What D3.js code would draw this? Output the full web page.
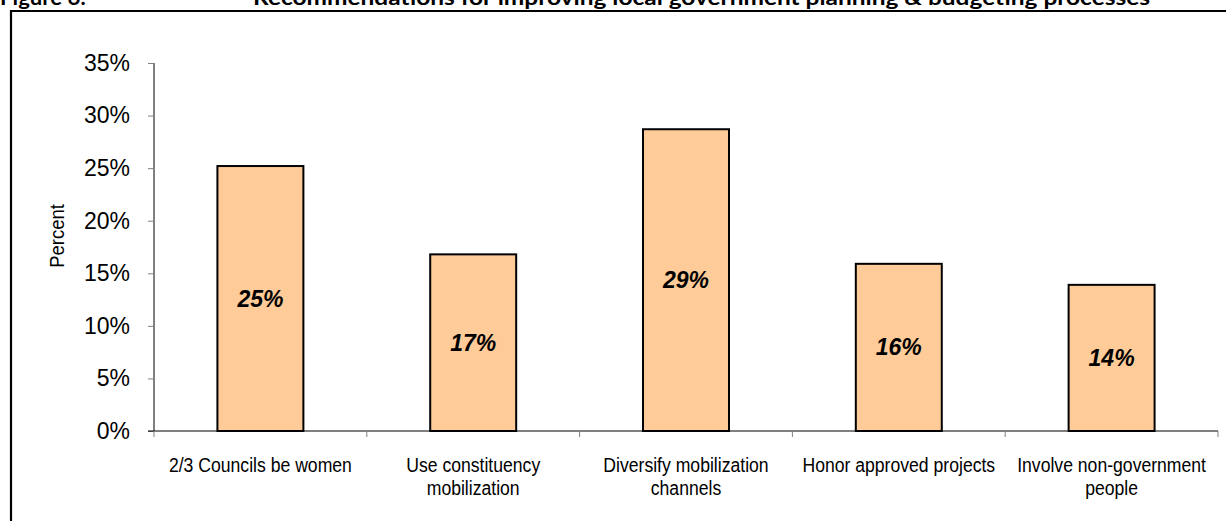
<!DOCTYPE html>
<html><head><meta charset="utf-8">
<script src="https://cdn.jsdelivr.net/npm/d3@7"></script>
<style>
html,body{margin:0;padding:0;background:#fff;overflow:hidden;}
svg{display:block;}
</style></head>
<body>
<svg id="chart" width="1226" height="521"></svg>
<script>
const categories = [
  ["2/3 Councils be women"],
  ["Use constituency", "mobilization"],
  ["Diversify mobilization", "channels"],
  ["Honor approved projects"],
  ["Involve non-government", "people"]
];
const values = [0.252, 0.168, 0.287, 0.159, 0.139];
const valueLabels = ["25%", "17%", "29%", "16%", "14%"];
const yTicks = [0, 0.05, 0.10, 0.15, 0.20, 0.25, 0.30, 0.35];
const figureNumber = "Figure 6:";
const titleText = "Recommendations for improving local government planning & budgeting processes";
const yTitle = "Percent";

const svg = d3.select("#chart");

// frame
svg.append("path")
  .attr("d", "M11,521 L11,11 L1226,11")
  .attr("fill", "none").attr("stroke", "#000").attr("stroke-width", 2.2);

// title (clipped at top, as in the source)
svg.append("text").attr("x", 0).attr("y", 5)
  .attr("font-family", "Lato, 'Open Sans', sans-serif").attr("font-weight", "bold")
  .attr("font-size", 21)
  .attr("textLength", 86).attr("lengthAdjust", "spacingAndGlyphs")
  .text(figureNumber);
svg.append("text").attr("x", 253).attr("y", 5)
  .attr("font-family", "Lato, 'Open Sans', sans-serif").attr("font-weight", "bold")
  .attr("font-size", 21)
  .attr("textLength", 897).attr("lengthAdjust", "spacingAndGlyphs")
  .text(titleText);

const x = d3.scaleBand().domain(d3.range(categories.length)).range([154, 1218]).paddingInner(0.596).paddingOuter(0.298);
const bandX = d3.scaleBand().domain(d3.range(categories.length)).range([154, 1218]);
const y = d3.scaleLinear().domain([0, 0.35]).range([431, 63]);

// y axis
const yAxis = svg.append("g").attr("transform", "translate(154,0)")
  .call(d3.axisLeft(y).tickValues(yTicks).tickFormat(d3.format(".0%")).tickSize(6).tickPadding(18));
yAxis.select(".domain").attr("stroke", "#000").attr("d", "M0,63V431");
yAxis.selectAll(".tick line").attr("stroke", "#808080");
yAxis.selectAll(".tick text").attr("font-family", "Arial, 'Liberation Sans', sans-serif")
  .attr("font-size", 23).attr("fill", "#000");

// x axis baseline and ticks
svg.append("line").attr("x1", 148).attr("x2", 1218).attr("y1", 431).attr("y2", 431).attr("stroke", "#000");
const bounds = d3.range(categories.length + 1).map(i => i < categories.length ? bandX(i) : bandX(i - 1) + bandX.bandwidth());
svg.selectAll(".xt").data(bounds).enter().append("line")
  .attr("x1", d => d).attr("x2", d => d).attr("y1", 431).attr("y2", 437)
  .attr("stroke", "#808080");

// bars
svg.selectAll(".bar").data(values).enter().append("rect")
  .attr("x", (d, i) => x(i)).attr("width", x.bandwidth())
  .attr("y", d => y(d)).attr("height", d => y(0) - y(d))
  .attr("fill", "#FFCC99").attr("stroke", "#000").attr("stroke-width", 2);

// value labels
svg.selectAll(".vl").data(values).enter().append("text")
  .attr("x", (d, i) => x(i) + x.bandwidth() / 2)
  .attr("y", d => (y(d) + y(0)) / 2)
  .attr("dy", "0.35em").attr("text-anchor", "middle")
  .attr("font-family", "Arial, 'Liberation Sans', sans-serif")
  .attr("font-weight", "bold").attr("font-style", "italic").attr("font-size", 23)
  .text((d, i) => valueLabels[i]);

// category labels (condensed to mimic Arial Narrow)
const cl = svg.selectAll(".cl").data(categories).enter().append("text")
  .attr("text-anchor", "middle")
  .attr("font-family", "Arial, 'Liberation Sans', sans-serif")
  .attr("font-size", 20).attr("fill", "#000");
cl.each(function (lines, i) {
  const t = d3.select(this);
  lines.forEach((ln, j) => {
    const ts = t.append("tspan").attr("x", bandX(i) + bandX.bandwidth() / 2).attr("y", 472 + j * 23).text(ln);
    const w = ts.node().getComputedTextLength();
    ts.attr("textLength", w * 0.88).attr("lengthAdjust", "spacingAndGlyphs");
  });
});

// y title
const yt = svg.append("text").attr("transform", "translate(64,236) rotate(-90)")
  .attr("text-anchor", "middle")
  .attr("font-family", "Arial, 'Liberation Sans', sans-serif")
  .attr("font-size", 21).text(yTitle);
yt.attr("textLength", yt.node().getComputedTextLength() * 0.88).attr("lengthAdjust", "spacingAndGlyphs");
</script>
</body></html>
